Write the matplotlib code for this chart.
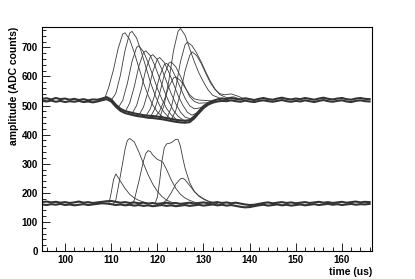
import matplotlib
matplotlib.use('Agg')
import matplotlib.pyplot as plt
from matplotlib import font_manager as fm
from matplotlib.ticker import MultipleLocator
import numpy as np

bold_path = None
for f in fm.fontManager.ttflist:
    if f.name == 'Liberation Sans' and f.weight in (700, 'bold') and f.style == 'normal':
        bold_path = f.fname
if bold_path:
    fp_tick = fm.FontProperties(fname=bold_path, size=7)
    fp_lab = fm.FontProperties(fname=bold_path, size=7.5)
else:
    fp_tick = fm.FontProperties(family='DejaVu Sans', weight='bold', size=6.5)
    fp_lab = fm.FontProperties(family='DejaVu Sans', weight='bold', size=7)

# baseline bands, sampled every 1 us from 95 to 166
t_base = np.arange(95, 167, 1)
upper_base_1 = [523, 525, 521, 526, 522, 524, 520, 523, 519, 522, 518, 521, 520, 524, 529,
                521, 503, 489, 481, 477, 473, 470, 467, 465, 464, 462, 460, 457, 454, 451, 449, 448, 450,
                463, 481, 498, 509, 516, 521, 524, 522, 526, 523, 521, 525, 522, 519, 523, 526, 522, 520,
                524, 527, 523, 521, 524, 522, 526, 523, 520, 524, 527, 523, 521, 524, 526, 522, 520, 524,
                526, 523, 522]
upper_base_2 = [516, 514, 517, 513, 516, 512, 515, 513, 516, 512, 514, 511, 514, 518, 522,
                514, 496, 482, 474, 470, 466, 463, 461, 458, 457, 455, 453, 450, 447, 444, 442, 441, 443,
                456, 474, 491, 503, 510, 514, 516, 515, 518, 515, 513, 517, 514, 512, 516, 518, 515, 513,
                516, 519, 515, 513, 516, 514, 518, 515, 512, 516, 519, 515, 513, 516, 518, 514, 512, 516,
                518, 515, 514]
lower_base_1 = [168, 170, 167, 169, 166, 168, 165, 167, 170, 166,
                168, 165, 167, 169, 171, 172, 169, 166, 168, 165,
                167, 164, 166, 163, 165, 162, 164, 166, 163, 165,
                162, 164, 166, 163, 165, 167, 164, 166, 168, 165,
                167, 164, 166, 163, 160, 158, 159, 162, 165, 167,
                164, 166, 168, 165, 167, 164, 166, 168, 165, 167,
                169, 166, 168, 165, 167, 169, 166, 168, 170, 167,
                169, 168]
lower_base_2 = [160, 158, 161, 159, 162, 158, 160, 157, 159, 161,
                158, 160, 162, 164, 163, 161, 158, 160, 157, 159,
                156, 158, 155, 157, 154, 156, 158, 155, 157, 154,
                156, 158, 155, 157, 159, 156, 158, 160, 157, 159,
                156, 158, 155, 152, 150, 151, 154, 157, 159, 156,
                158, 160, 157, 159, 156, 158, 160, 157, 159, 161,
                158, 160, 162, 159, 161, 158, 160, 162, 159, 161,
                160, 162]

# upper channel pulses: (times, amplitudes)
upper_pulses = [
    ([108.5, 109.5, 110.5, 111.5, 112.5, 113, 114, 115, 116, 117, 118, 119, 120, 121.5],
     [520, 565, 624, 696, 746, 750, 727, 682, 630, 578, 535, 502, 478, 456]),
    ([110, 111, 112, 113, 114, 114.5, 115.5, 116.5, 117.5, 118.5, 119.5, 120.5, 121.5, 123],
     [518, 542, 605, 690, 749, 755, 732, 686, 633, 580, 536, 500, 476, 451]),
    ([111.5, 112.5, 113.5, 114.5, 115.5, 116, 117, 118, 119, 120, 121, 122, 123, 124.5],
     [492, 518, 576, 651, 700, 705, 685, 648, 604, 559, 521, 490, 468, 447]),
    ([113, 114, 115, 116, 117, 117.5, 118.5, 119.5, 120.5, 121.5, 122.5, 123.5, 124.5, 126],
     [478, 508, 565, 636, 682, 688, 671, 636, 593, 550, 513, 483, 463, 445]),
    ([114.5, 115.5, 116.5, 117.5, 118.5, 119, 120, 121, 122, 123, 124, 125, 126, 127.5],
     [472, 500, 555, 624, 669, 675, 658, 624, 582, 541, 506, 478, 460, 453]),
    ([116, 117, 118, 119, 120, 120.5, 121.5, 122.5, 123.5, 124.5, 125.5, 126.5, 127.5, 129],
     [467, 495, 549, 616, 660, 665, 648, 614, 574, 534, 502, 477, 467, 478]),
    ([117.5, 118.5, 119.5, 120.5, 121.5, 122, 123, 124, 125, 126, 127, 128, 129, 130.5],
     [463, 490, 540, 601, 641, 645, 629, 597, 561, 525, 499, 489, 491, 500]),
    ([118.5, 119.5, 120.5, 121.5, 122.5, 123, 124, 125, 126, 127, 128, 129, 130, 131.5],
     [461, 490, 542, 605, 646, 650, 633, 601, 564, 531, 514, 508, 509, 509]),
    ([119.5, 120.5, 121.5, 122.5, 123.5, 124, 125, 126, 127, 128, 129, 130, 131, 132.5],
     [460, 481, 519, 565, 595, 598, 586, 562, 537, 523, 519, 518, 517, 515]),
    ([120.5, 121.5, 122.5, 123.5, 124.5, 125, 126, 127, 128, 129, 130, 131, 132, 133.5, 135],
     [458, 503, 587, 689, 756, 765, 742, 696, 651, 612, 581, 554, 535, 526, 524]),
    ([122, 123, 124, 125, 126, 126.5, 127.5, 128.5, 129.5, 130.5, 131.5, 132.5, 133.5, 135, 136.5, 138],
     [454, 492, 562, 650, 709, 718, 706, 681, 650, 615, 583, 557, 538, 527, 530, 522]),
    ([123, 124, 125, 126, 127, 127.5, 128.5, 129.5, 130.5, 131.5, 132.5, 133.5, 134.5, 136, 137.5, 139],
     [451, 483, 543, 619, 672, 685, 672, 645, 610, 578, 555, 541, 537, 540, 532, 522]),
]

# lower channel pulses
lower_pulses = [
    ([109.5, 110.0, 110.5, 111.0, 112.0, 113.0, 114.0, 115.0, 116.0, 117.0, 118.0],
     [163, 200, 245, 265, 240, 215, 195, 182, 174, 168, 164]),
    ([110.5, 111.0, 112.0, 113.0, 113.5, 114.0, 115.0, 116.0, 117.0, 118.0, 119.0, 120.0, 121.0, 122.0, 123.0, 124.0],
     [163, 175, 260, 350, 380, 387, 375, 340, 300, 262, 230, 205, 187, 175, 168, 164]),
    ([114.5, 115.0, 116.0, 117.0, 117.5, 118.0, 118.5, 119.0, 120.0, 120.7, 121.2, 122.0, 123.0, 124.0, 125.0, 126.0, 127.0, 128.0, 129.0],
     [163, 175, 240, 310, 335, 345, 342, 330, 315, 310, 305, 280, 245, 215, 195, 182, 174, 168, 164]),
    ([119.5, 120.0, 120.5, 121.0, 121.5, 122.0, 123.0, 124.0, 124.5, 125.0, 125.5, 126.0, 127.0, 128.0, 129.0, 130.0, 131.0, 132.0, 133.0],
     [163, 185, 240, 310, 355, 368, 372, 384, 383, 360, 320, 285, 235, 205, 188, 178, 170, 166, 163]),
    ([121.0, 122.0, 123.0, 124.0, 125.0, 125.5, 126.0, 127.0, 128.0, 129.0, 130.0, 131.0, 132.0, 133.0],
     [163, 175, 200, 230, 248, 250, 245, 225, 205, 190, 180, 172, 167, 164]),
]

fig = plt.figure(figsize=(4.15, 2.79), dpi=100)
ax = fig.add_axes([0.1012, 0.1004, 0.795, 0.8028])

for base in (upper_base_1, upper_base_2, lower_base_1, lower_base_2):
    ax.plot(t_base, base, color='#333333', lw=1.5)

for t, a in upper_pulses + lower_pulses:
    ax.plot(t, a, color='#3a3a3a', lw=0.6)

ax.set_xlim(95, 166.5)
ax.set_ylim(0, 770)
ax.xaxis.set_major_locator(MultipleLocator(10))
ax.xaxis.set_minor_locator(MultipleLocator(2))
ax.yaxis.set_major_locator(MultipleLocator(100))
ax.yaxis.set_minor_locator(MultipleLocator(20))
ax.tick_params(which='both', direction='in', top=False, right=False)
ax.tick_params(which='major', length=6, width=0.6, pad=3)
ax.tick_params(which='minor', length=3, width=0.6)
for lbl in ax.get_xticklabels() + ax.get_yticklabels():
    lbl.set_fontproperties(fp_tick)
for s in ax.spines.values():
    s.set_linewidth(0.8)

ax.set_xlabel('time (us)', loc='right', fontproperties=fp_lab, labelpad=1)
ax.set_ylabel('amplitude (ADC counts)', loc='top', fontproperties=fp_lab, labelpad=2)

fig.savefig('out.png', dpi=100)
